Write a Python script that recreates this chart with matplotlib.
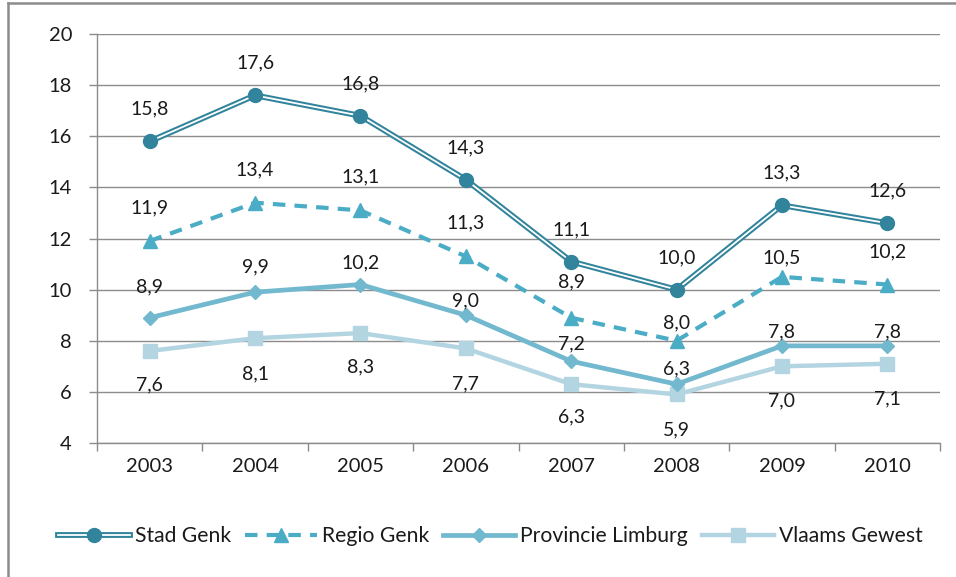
import matplotlib.pyplot as plt
from matplotlib.lines import Line2D
from matplotlib.legend_handler import HandlerTuple

plt.rcParams['font.family'] = ['Lato', 'DejaVu Sans']

years = ["2003", "2004", "2005", "2006", "2007", "2008", "2009", "2010"]
stad_genk = [15.8, 17.6, 16.8, 14.3, 11.1, 10.0, 13.3, 12.6]
regio_genk = [11.9, 13.4, 13.1, 11.3, 8.9, 8.0, 10.5, 10.2]
prov_limburg = [8.9, 9.9, 10.2, 9.0, 7.2, 6.3, 7.8, 7.8]
vlaams_gewest = [7.6, 8.1, 8.3, 7.7, 6.3, 5.9, 7.0, 7.1]

# label offsets in pixels (positive = above the point)
off_stad = [32] * 8
off_regio = [33, 33, 34, 34, 36, 18, 19, 33]
off_prov = [31, 25, 22, 14, 17, 15, 14, 14]
off_vlaams = [-34, -36, -34, -35, -33, -35, -35, -35]

c_stad = "#31849B"
c_regio = "#4BACC6"
c_prov = "#72B8CE"
c_vlaams = "#B3D5E1"

fig = plt.figure(figsize=(9.56, 5.77), dpi=100)
ax = fig.add_axes([97 / 956, 1 - 443 / 577, 843 / 956, 409 / 577])
x = list(range(len(years)))

# figure border (left and top edges visible)
fig.add_artist(Line2D([8 / 956, 8 / 956], [0, 1 - 3 / 577], transform=fig.transFigure,
                      color="#8c8c8c", lw=1.8))
fig.add_artist(Line2D([8 / 956, 1], [1 - 3 / 577, 1 - 3 / 577], transform=fig.transFigure,
                      color="#8c8c8c", lw=1.8))

ax.plot(x, vlaams_gewest, color=c_vlaams, lw=3.2, marker="s", ms=10, zorder=3)
ax.plot(x, prov_limburg, color=c_prov, lw=3.4, marker="D", ms=7, zorder=4)
ax.plot(x, regio_genk, color=c_regio, lw=3.0, ls=(0, (3, 2.2)), marker="^", ms=10, zorder=5)
ax.plot(x, stad_genk, color=c_stad, lw=4.2, zorder=6)
ax.plot(x, stad_genk, color="white", lw=1.3, zorder=7)
ax.plot(x, stad_genk, ls="none", marker="o", ms=10, color=c_stad, zorder=8)


def add_labels(vals, offs):
    for xi, v, o in zip(x, vals, offs):
        ax.annotate(f"{v:.1f}".replace(".", ","), (xi, v), xytext=(0, o * 0.72),
                    textcoords="offset points", ha="center", va="center",
                    fontsize=14, color="#1a1a1a", zorder=10)


add_labels(stad_genk, off_stad)
add_labels(regio_genk, off_regio)
add_labels(prov_limburg, off_prov)
add_labels(vlaams_gewest, off_vlaams)

ax.set_xlim(-0.5, 7.5)
ax.set_ylim(4, 20)
ax.set_yticks(range(4, 21, 2))
ax.set_xticks(x)
ax.set_xticklabels(years)
ax.set_xticks([i - 0.5 for i in range(len(years) + 1)], minor=True)
ax.tick_params(axis="x", which="major", length=0, pad=11, labelsize=14.5, labelcolor="#1a1a1a")
ax.tick_params(axis="x", which="minor", length=6, width=1, color="#8c8c8c", direction="out")
ax.tick_params(axis="y", length=6, width=1, color="#8c8c8c", pad=12, labelsize=14.5,
               labelcolor="#1a1a1a")
ax.grid(axis="y", color="#8c8c8c", lw=1)
ax.set_axisbelow(True)
for s in ["top", "right"]:
    ax.spines[s].set_visible(False)
for s in ["left", "bottom"]:
    ax.spines[s].set_color("#8c8c8c")
    ax.spines[s].set_linewidth(1)

h_stad = (Line2D([], [], color=c_stad, lw=4.2), Line2D([], [], color="white", lw=1.3),
          Line2D([], [], ls="none", marker="o", ms=10, color=c_stad))
h_regio = Line2D([], [], color=c_regio, lw=3.0, ls=(0, (3, 2.2)), marker="^", ms=10)
h_prov = Line2D([], [], color=c_prov, lw=3.4, marker="D", ms=7)
h_vlaams = Line2D([], [], color=c_vlaams, lw=3.2, marker="s", ms=10)
fig.legend([h_stad, h_regio, h_prov, h_vlaams],
           ["Stad Genk", "Regio Genk", "Provincie Limburg", "Vlaams Gewest"],
           handler_map={tuple: HandlerTuple(ndivide=1, pad=0)},
           loc="center", bbox_to_anchor=(0.513, 1 - 536 / 577), ncol=4, frameon=False,
           fontsize=15.2, handlelength=3.4, handletextpad=0.25, columnspacing=0.65,
           labelcolor="#1a1a1a")

fig.savefig("out.png", dpi=100)
